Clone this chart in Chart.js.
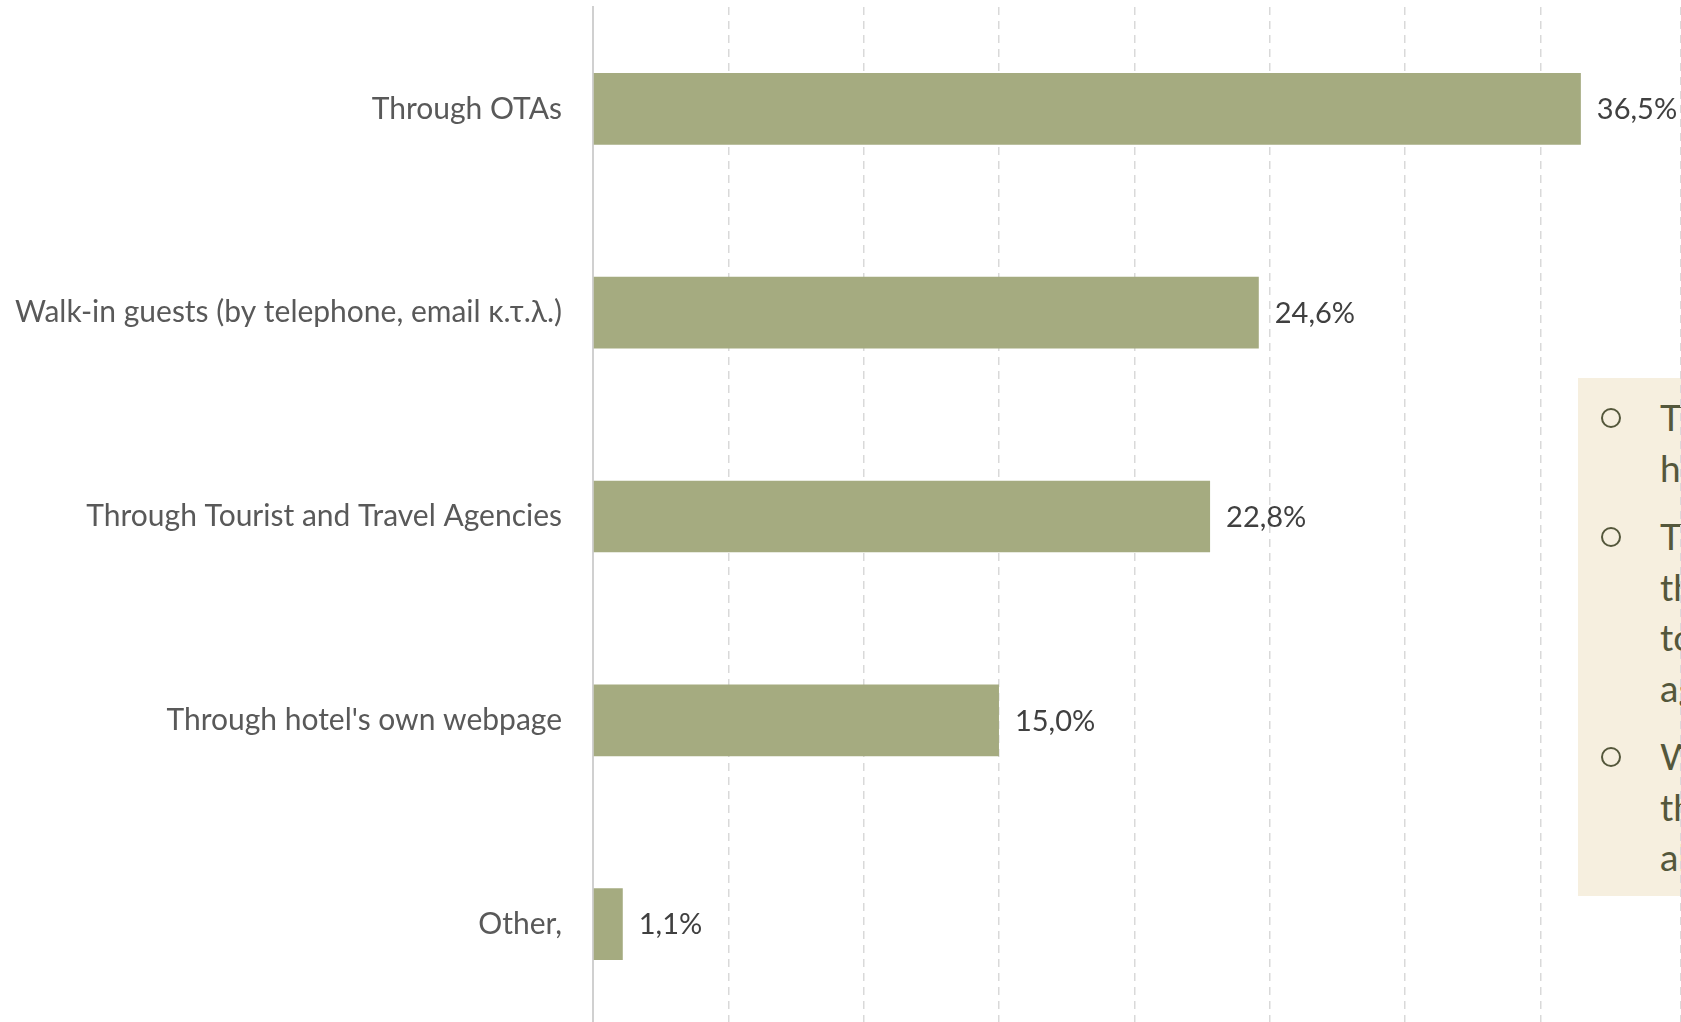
<!DOCTYPE html>
<html lang="en">
<head>
  <meta charset="UTF-8" />
  <title>Booking channels</title>
  <script src="https://cdn.jsdelivr.net/npm/chart.js"></script>
  <style>
    body { margin: 0; background: #fff; overflow: hidden; font-family: Lato, "Noto Sans", sans-serif; }
    #wrap { position: relative; width: 1681px; height: 1022px; overflow: hidden; }
    #chart { position: absolute; left: 0; top: 0; z-index: 2; }
    #note {
      position: absolute; left: 1578px; top: 378px; width: 400px; height: 518px;
      background: #f6efdf; z-index: 1; box-sizing: border-box; padding: 14px 0 0 82px;
      color: #54573b; font-size: 37px; line-height: 50.5px;
    }
    #note p { margin: 0 0 18px 0; position: relative; white-space: nowrap; }
    #note p::before {
      content: ""; position: absolute; left: -59px; top: 16px;
      width: 16px; height: 16px; border: 2px solid #54573b; border-radius: 50%;
    }
  </style>
</head>
<body>
  <div id="wrap">
    <div id="note">
      <p>The<br>hotels</p>
      <p>The<br>through<br>tour<br>agencies</p>
      <p>Walk-in<br>the<br>also</p>
    </div>
    <canvas id="chart" width="1681" height="1026"></canvas>
  </div>

  <script>
    const categories = [
      'Through OTAs',
      'Walk-in guests (by telephone, email κ.τ.λ.)',
      'Through Tourist and Travel Agencies',
      "Through hotel's own webpage",
      'Other,'
    ];
    const shares = [36.5, 24.6, 22.8, 15.0, 1.1];

    const fmt = v => v.toFixed(1).replace('.', ',') + '%';

    // data labels at the end of each bar
    const barLabels = {
      id: 'barLabels',
      afterDatasetsDraw(chart) {
        const ctx = chart.ctx;
        const meta = chart.getDatasetMeta(0);
        ctx.save();
        ctx.font = '29px Lato, "Noto Sans", sans-serif';
        ctx.fillStyle = '#404040';
        ctx.textAlign = 'left';
        ctx.textBaseline = 'middle';
        meta.data.forEach((bar, i) => {
          ctx.fillText(fmt(shares[i]), bar.x + 16, bar.y + 1);
        });
        ctx.restore();
      }
    };

    const ctx = document.getElementById('chart').getContext('2d');
    new Chart(ctx, {
      type: 'bar',
      data: {
        labels: categories,
        datasets: [{
          data: shares,
          backgroundColor: '#a5ab80',
          borderWidth: 0,
          categoryPercentage: 1,
          barPercentage: 0.352
        }]
      },
      options: {
        indexAxis: 'y',
        responsive: false,
        devicePixelRatio: 1,
        animation: false,
        layout: { padding: { top: 7, left: 0, right: 0, bottom: 0 } },
        plugins: {
          legend: { display: false },
          tooltip: { enabled: false }
        },
        scales: {
          x: {
            min: 0,
            max: 40.2,
            ticks: { display: false, stepSize: 5 },
            grid: {
              color: ctx => ctx.tick && ctx.tick.value === 0 ? 'rgba(0,0,0,0)' : '#d9d9d9',
              lineWidth: 1.5,
              drawTicks: false
            },
            border: { display: false, dash: [8, 6] },
            afterFit: s => { s.height = 0; }
          },
          y: {
            ticks: {
              color: '#595959',
              font: { family: 'Lato, "Noto Sans", sans-serif', size: 30 },
              padding: 31
            },
            grid: { display: false, drawTicks: false },
            border: { display: true, color: '#d0d0d0', width: 2 },
            afterFit: s => {
              s.width = 593;
              s.paddingTop = 0;
              s.paddingBottom = 0;
            }
          }
        }
      },
      plugins: [barLabels]
    });
  </script>
</body>
</html>
